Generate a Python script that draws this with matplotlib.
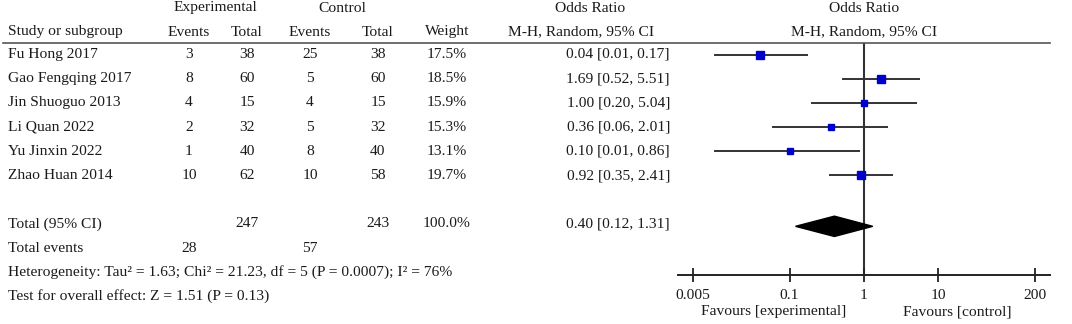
import numpy as np
import matplotlib
matplotlib.use("Agg")
import matplotlib.pyplot as plt
from matplotlib.lines import Line2D
from matplotlib.patches import Polygon

# ---------------- data ----------------
studies = ["Fu Hong 2017", "Gao Fengqing 2017", "Jin Shuoguo 2013",
           "Li Quan 2022", "Yu Jinxin 2022", "Zhao Huan 2014"]
exp_events = [3, 8, 4, 2, 1, 10]
exp_total = [38, 60, 15, 32, 40, 62]
ctl_events = [25, 5, 4, 5, 8, 10]
ctl_total = [38, 60, 15, 32, 40, 58]
weights = [17.5, 18.5, 15.9, 15.3, 13.1, 19.7]
or_est = [0.04, 1.69, 1.00, 0.36, 0.10, 0.92]
or_lo = [0.01, 0.52, 0.20, 0.06, 0.01, 0.35]
or_hi = [0.17, 5.51, 5.04, 2.01, 0.86, 2.41]

total_exp = 247
total_ctl = 243
total_weight = 100.0
events_exp_sum = 28
events_ctl_sum = 57
pooled_or = 0.40
pooled_lo = 0.12
pooled_hi = 1.31

heterogeneity = "Heterogeneity: Tau² = 1.63; Chi² = 21.23, df = 5 (P = 0.0007); I² = 76%"
overall = "Test for overall effect: Z = 1.51 (P = 0.13)"

tick_vals = [0.005, 0.1, 1, 10, 200]
tick_labels = ["0.005", "0.1", "1", "10", "200"]

# ---------------- layout ----------------
W, H = 1072, 324
fig = plt.figure(figsize=(W / 100, H / 100), dpi=100)
plt.rcParams['font.family'] = ['Liberation Serif', 'DejaVu Serif']
FS = 11.15
TXT = "#1a1a1a"

def ftext(x, y, s, ha="left", **kw):
    fig.text(x / W, 1 - y / H, s, ha=ha, va="center", fontsize=FS, color=TXT, **kw)

ROW0 = 54.5
DY = 24.2
def rowy(i):
    return ROW0 + DY * i

# headers
ftext(215, 8, "Experimental", ha="center")
ftext(342, 8, "Control", ha="center")
ftext(590, 8, "Odds Ratio", ha="center")
ftext(864, 8, "Odds Ratio", ha="center")
hy = 32
ftext(8, hy, "Study or subgroup")
ftext(189, hy, "Events", ha="center")
ftext(247, hy, "Total", ha="center")
ftext(310, hy, "Events", ha="center")
ftext(378, hy, "Total", ha="center")
ftext(447, hy, "Weight", ha="center")
ftext(581, hy, "M-H, Random, 95% CI", ha="center")
ftext(864, hy, "M-H, Random, 95% CI", ha="center")

# header rule
fig.add_artist(Line2D([3 / W, 1050 / W], [1 - 43 / H, 1 - 43 / H],
                      transform=fig.transFigure, color="#555555", lw=1.2))

for i, name in enumerate(studies):
    y = rowy(i)
    ftext(8, y, name)
    ftext(189, y, str(exp_events[i]), ha="center")
    ftext(247, y, str(exp_total[i]), ha="center")
    ftext(310, y, str(ctl_events[i]), ha="center")
    ftext(378, y, str(ctl_total[i]), ha="center")
    ftext(447, y, f"{weights[i]:.1f}%", ha="center")
    ftext(670, y, f"{or_est[i]:.2f} [{or_lo[i]:.2f}, {or_hi[i]:.2f}]", ha="right")

yt = rowy(7)
ftext(8, yt, "Total (95% CI)")
ftext(247, yt, str(total_exp), ha="center")
ftext(378, yt, str(total_ctl), ha="center")
ftext(447, yt, f"{total_weight:.1f}%", ha="center")
ftext(670, yt, f"{pooled_or:.2f} [{pooled_lo:.2f}, {pooled_hi:.2f}]", ha="right")

ye = rowy(8)
ftext(8, ye, "Total events")
ftext(189, ye, str(events_exp_sum), ha="center")
ftext(310, ye, str(events_ctl_sum), ha="center")
ftext(8, rowy(9), heterogeneity)
ftext(8, rowy(10), overall)

# ---------------- forest axes ----------------
ax_left, ax_right = 678, 1050
ax_top, ax_bot = 43, 275
ax = fig.add_axes([ax_left / W, 1 - ax_bot / H, (ax_right - ax_left) / W, (ax_bot - ax_top) / H])
ax.set_xscale("log")
ax.set_xlim(10 ** -2.5, 10 ** 2.5)
y_top = (ax_top - ROW0) / DY
y_bot = (ax_bot - ROW0) / DY
ax.set_ylim(y_bot, y_top)
for s in ["top", "left", "right"]:
    ax.spines[s].set_visible(False)
ax.spines["bottom"].set_color("#222222")
ax.spines["bottom"].set_linewidth(1.4)
ax.set_yticks([])
ax.set_xticks(tick_vals)
ax.set_xticklabels(tick_labels)
ax.minorticks_off()
ax.tick_params(axis="x", direction="inout", length=10, width=1.3, color="#222222",
               labelsize=FS, labelcolor=TXT, pad=5)
ax.patch.set_alpha(0)

ax.axvline(1, color="#333333", lw=1.5, zorder=1)

for i in range(len(studies)):
    ax.plot([or_lo[i], or_hi[i]], [i, i], color="#333333", lw=1.4, zorder=2)
    ms = 4.6 + (weights[i] - 13) * 0.15
    ax.plot(or_est[i], i, marker="s", ms=ms, color="#0000CC", mec="#0000CC", zorder=3)

dh = 0.42
yd = 7.1
diamond = Polygon([[pooled_lo, yd], [pooled_or, yd - dh], [pooled_hi, yd], [pooled_or, yd + dh]],
                  closed=True, facecolor="black", edgecolor="black", zorder=4)
ax.add_patch(diamond)

ftext(774, 312, "Favours [experimental]", ha="center")
ftext(957, 312, "Favours [control]", ha="center")

fig.savefig("out.png", dpi=100, facecolor="white")
